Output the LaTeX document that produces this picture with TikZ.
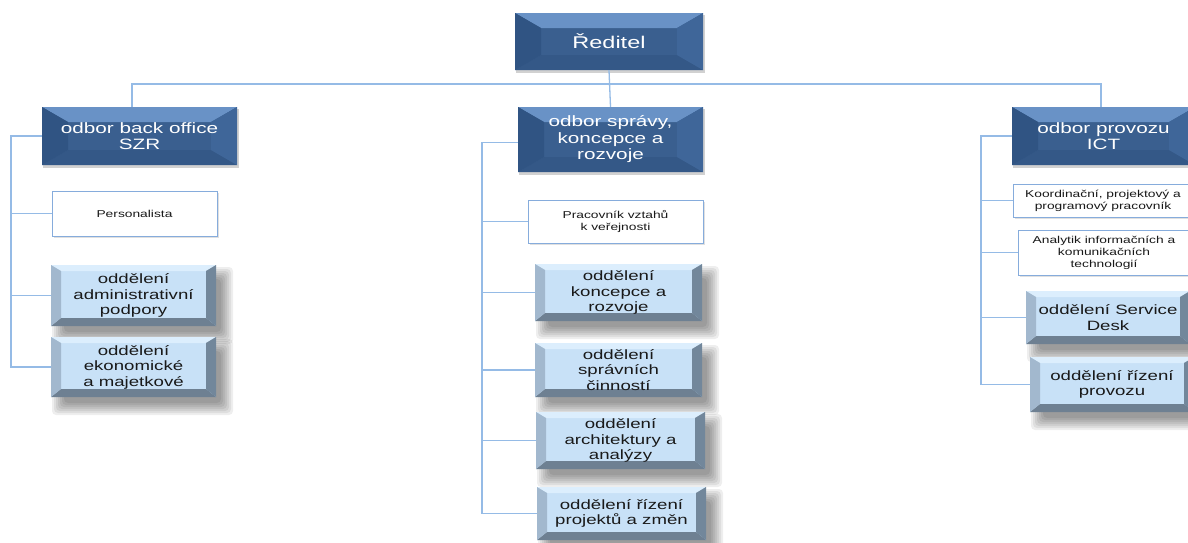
\documentclass[tikz,border=0pt]{standalone}
\usepackage{fontspec}
\setmainfont{Liberation Sans}[FakeStretch=1.38]
\definecolor{hface}{HTML}{3A5F8F}
\definecolor{htop}{HTML}{6992C6}
\definecolor{hleft}{HTML}{305483}
\definecolor{hright}{HTML}{3F6699}
\definecolor{hbot}{HTML}{345887}
\definecolor{lface}{HTML}{C8E1F7}
\definecolor{ltop}{HTML}{DCEEFD}
\definecolor{lleft}{HTML}{A2B8CE}
\definecolor{lright}{HTML}{72879B}
\definecolor{lbot}{HTML}{6E8092}
\definecolor{linec}{HTML}{95BBE6}
\definecolor{wbord}{HTML}{86ACDC}
\tikzset{
  conn/.style={draw=linec, line width=1.3pt},
  hdrtxt/.style={text=white, font=\fontsize{15}{16.5}\selectfont, align=center, inner sep=0pt},
  subtxt/.style={text=black!90, font=\fontsize{13.5}{15.5}\selectfont, align=center, inner sep=0pt},
  wbox/.style={draw=wbord, line width=1pt, fill=white, text=black!90,
    font=\fontsize{10}{12}\selectfont, align=center, inner sep=0pt},
  shadowlayer/.style={fill=black, opacity=.065, rounded corners=4pt},
}
\newcommand\hdrbx[6]{%
  \fill[black, opacity=.18] ({#2+1},{#3+2}) rectangle ({#4+2},{#5+3});
  \fill[hface] (#2,#3) rectangle (#4,#5);
  \fill[htop] (#2,#3) -- (#4,#3) -- ({#4-26},{#3+15}) -- ({#2+26},{#3+15}) -- cycle;
  \fill[hbot] (#2,#5) -- (#4,#5) -- ({#4-26},{#5-15}) -- ({#2+26},{#5-15}) -- cycle;
  \fill[hleft] (#2,#3) -- ({#2+26},{#3+15}) -- ({#2+26},{#5-15}) -- (#2,#5) -- cycle;
  \fill[hright] (#4,#3) -- ({#4-26},{#3+15}) -- ({#4-26},{#5-15}) -- (#4,#5) -- cycle;
  \node[hdrtxt, minimum width={#4-#2}, minimum height={#5-#3}] (#1) at ({(#2+#4)/2},{(#3+#5)/2}) {#6};
}
\newcommand\subbx[6]{%
  \foreach \e in {8,6,4,2,0,-2,-4}{%
    \path[shadowlayer] ({#2+9-\e},{#3+10-\e}) rectangle ({#4+9+\e},{#5+10+\e});
  }
  \fill[lface] (#2,#3) rectangle (#4,#5);
  \fill[ltop] (#2,#3) -- (#4,#3) -- ({#4-10},{#3+6}) -- ({#2+10},{#3+6}) -- cycle;
  \fill[lbot] (#2,#5) -- (#4,#5) -- ({#4-10},{#5-8}) -- ({#2+10},{#5-8}) -- cycle;
  \fill[lleft] (#2,#3) -- ({#2+10},{#3+6}) -- ({#2+10},{#5-8}) -- (#2,#5) -- cycle;
  \fill[lright] (#4,#3) -- ({#4-10},{#3+6}) -- ({#4-10},{#5-8}) -- (#4,#5) -- cycle;
  \node[subtxt, minimum width={#4-#2}, minimum height={#5-#3}] (#1) at ({(#2+#4)/2},{(#3+#5)/2}) {#6};
}
\newcommand\whbx[6]{%
  \fill[black, opacity=.12] ({#2+1.5},{#3+1.5}) rectangle ({#4+2},{#5+2});
  \node[wbox, minimum width={#4-#2}, minimum height={#5-#3}] (#1) at ({(#2+#4)/2},{(#3+#5)/2}) {#6};
}
\begin{document}
\begin{tikzpicture}[x=1pt, y=-1pt]
\useasboundingbox (0,0) rectangle (1188,542);
\clip (0,0) rectangle (1188,542);
\fill[white] (0,0) rectangle (1188,542);
% boxes
\hdrbx{red}{515}{13}{703}{70}{{\fontsize{17}{18}\selectfont Ředitel}}
\hdrbx{h1}{42}{107}{237}{165}{odbor back office\\SZR}
\hdrbx{h2}{518}{107}{703}{172}{odbor správy,\\koncepce a\\rozvoje}
\hdrbx{h3}{1012}{107}{1195}{165}{odbor provozu\\ICT}
\whbx{w1}{52}{191}{217}{236}{Personalista}
\subbx{l1}{51}{265}{216}{326}{oddělení\\administrativní\\podpory}
\subbx{l2}{51}{337}{216}{397}{oddělení\\ekonomické\\a majetkové}
\whbx{w2}{528}{200}{703}{243}{Pracovník vztahů\\k veřejnosti}
\subbx{l3}{535}{264}{702}{321}{oddělení\\koncepce a\\rozvoje}
\subbx{l4}{535}{343}{702}{397}{oddělení\\správních\\činností}
\subbx{l5}{536}{412}{705}{469}{oddělení\\architektury a\\analýzy}
\subbx{l6}{537}{487}{706}{540}{oddělení řízení\\projektů a změn}
\whbx{w3}{1013}{184}{1193}{217}{Koordinační, projektový a\\programový pracovník}
\whbx{w4}{1018}{230}{1190}{275}{Analytik informačních a\\komunikačních\\technologií}
\subbx{l7}{1026}{291}{1190}{344}{oddělení Service\\Desk}
\subbx{l8}{1030}{357}{1194}{412}{oddělení řízení\\provozu}
% top bus
\coordinate (hb) at (0,84);
\coordinate (t1) at (132,107);
\coordinate (t3) at (1101,107);
\draw[conn] (red.south) -- (h2.north);
\draw[conn] (t1) -- (t1 |- hb) -- (t3 |- hb) -- (t3);
% left bus
\coordinate (b1) at (11,0);
\draw[conn] (h1.west) -| (b1 |- l2.west) -- (l2.west);
\draw[conn] (b1 |- w1.west) -- (w1.west);
\draw[conn] (b1 |- l1.west) -- (l1.west);
% middle bus
\coordinate (b2) at (482,0);
\draw[conn] ([yshift=-3]h2.west) -| (b2 |- l6.west) -- (l6.west);
\draw[conn] (b2 |- w2.west) -- (w2.west);
\draw[conn] (b2 |- l3.west) -- (l3.west);
\draw[conn] (b2 |- l4.west) -- (l4.west);
\draw[conn] (b2 |- l5.west) -- (l5.west);
% right bus
\coordinate (b3) at (981,0);
\draw[conn] (h3.west) -| (b3 |- l8.west) -- (l8.west);
\draw[conn] (b3 |- w3.west) -- (w3.west);
\draw[conn] (b3 |- w4.west) -- (w4.west);
\draw[conn] (b3 |- l7.west) -- (l7.west);
\end{tikzpicture}
\end{document}
